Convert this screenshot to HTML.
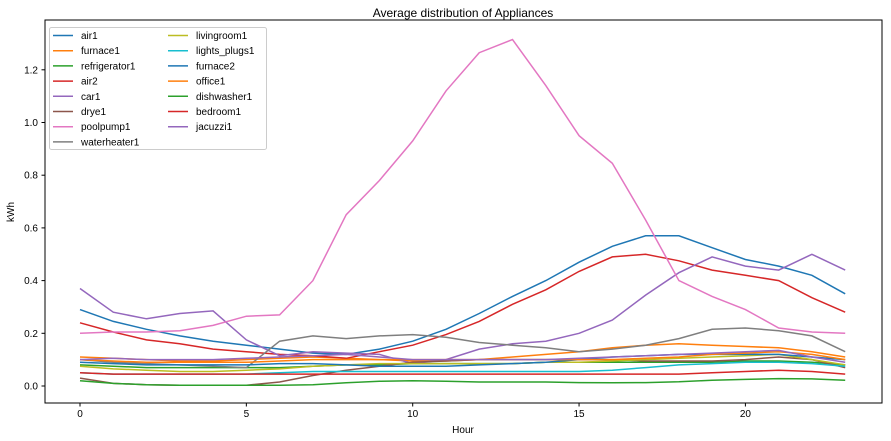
<!DOCTYPE html>
<html><head><meta charset="utf-8"><style>
body{margin:0;background:#fff;font-family:"Liberation Sans",sans-serif}
svg{display:block}
</style></head><body>
<svg id="chart" width="891" height="441" xmlns="http://www.w3.org/2000/svg">
<text x="463" y="17" text-anchor="middle" font-size="12">Average distribution of Appliances</text>
<text x="463" y="433" text-anchor="middle" font-size="10">Hour</text>
<text x="14" y="212" text-anchor="middle" font-size="10" transform="rotate(-90 14 212)">kWh</text>
<g id="ticks"></g>
<g id="lines"></g>
<rect x="45" y="20" width="837" height="383" fill="none" stroke="#000" stroke-width="1"/>
<g id="legend"></g>
</svg>
<script>
const hours = [0,1,2,3,4,5,6,7,8,9,10,11,12,13,14,15,16,17,18,19,20,21,22,23];
const xTicks = [0,5,10,15,20];
const yTicks = [0,0.2,0.4,0.6,0.8,1.0,1.2];
const seriesNames = ["air1","furnace1","refrigerator1","air2","car1","drye1","poolpump1","waterheater1","livingroom1","lights_plugs1","furnace2","office1","dishwasher1","bedroom1","jacuzzi1"];
const colors = ["#1f77b4","#ff7f0e","#2ca02c","#d62728","#9467bd","#8c564b","#e377c2","#7f7f7f","#bcbd22","#17becf","#1f77b4","#ff7f0e","#2ca02c","#d62728","#9467bd"];
const air1 = [0.29,0.245,0.215,0.19,0.17,0.155,0.14,0.125,0.12,0.14,0.17,0.215,0.275,0.34,0.40,0.47,0.53,0.57,0.57,0.525,0.48,0.455,0.42,0.35];
const furnace1 = [0.11,0.105,0.10,0.095,0.095,0.1,0.105,0.11,0.105,0.10,0.095,0.095,0.10,0.11,0.12,0.13,0.145,0.155,0.16,0.155,0.15,0.145,0.13,0.11];
const refrigerator1 = [0.08,0.075,0.07,0.07,0.07,0.07,0.07,0.075,0.08,0.08,0.085,0.085,0.085,0.085,0.09,0.09,0.09,0.09,0.09,0.09,0.095,0.095,0.09,0.08];
const air2 = [0.24,0.205,0.175,0.16,0.14,0.13,0.12,0.115,0.105,0.13,0.155,0.195,0.245,0.31,0.365,0.435,0.49,0.5,0.475,0.44,0.42,0.40,0.335,0.28];
const car1 = [0.37,0.28,0.255,0.275,0.285,0.175,0.115,0.13,0.125,0.12,0.085,0.10,0.14,0.16,0.17,0.20,0.25,0.345,0.43,0.49,0.455,0.44,0.50,0.44];
const drye1 = [0.03,0.01,0.005,0.003,0.003,0.003,0.015,0.04,0.06,0.075,0.09,0.095,0.1,0.1,0.1,0.1,0.1,0.095,0.095,0.095,0.1,0.11,0.1,0.07];
const poolpump1 = [0.20,0.205,0.205,0.21,0.23,0.265,0.27,0.40,0.65,0.78,0.93,1.12,1.265,1.315,1.14,0.95,0.845,0.63,0.40,0.34,0.29,0.22,0.205,0.20];
const waterheater1 = [0.10,0.09,0.085,0.08,0.075,0.07,0.17,0.19,0.18,0.19,0.195,0.185,0.165,0.155,0.145,0.13,0.14,0.155,0.18,0.215,0.22,0.21,0.19,0.13];
const livingroom1 = [0.075,0.065,0.06,0.055,0.055,0.06,0.065,0.075,0.08,0.085,0.085,0.085,0.085,0.085,0.09,0.09,0.095,0.10,0.105,0.11,0.115,0.12,0.10,0.08];
const lights_plugs1 = [0.05,0.045,0.045,0.045,0.045,0.045,0.05,0.055,0.055,0.055,0.055,0.055,0.055,0.055,0.055,0.055,0.06,0.07,0.08,0.085,0.09,0.09,0.085,0.075];
const furnace2 = [0.09,0.085,0.08,0.08,0.08,0.08,0.085,0.085,0.08,0.075,0.075,0.075,0.08,0.085,0.09,0.10,0.11,0.115,0.12,0.12,0.12,0.12,0.11,0.10];
const office1 = [0.10,0.095,0.09,0.09,0.09,0.09,0.095,0.10,0.10,0.10,0.10,0.10,0.10,0.10,0.10,0.10,0.10,0.105,0.11,0.12,0.125,0.13,0.12,0.10];
const dishwasher1 = [0.02,0.01,0.005,0.003,0.003,0.003,0.003,0.005,0.012,0.018,0.02,0.018,0.015,0.015,0.015,0.013,0.012,0.013,0.016,0.022,0.025,0.028,0.027,0.022];
const bedroom1 = [0.05,0.045,0.045,0.045,0.045,0.045,0.045,0.045,0.045,0.045,0.045,0.045,0.045,0.045,0.045,0.045,0.045,0.045,0.045,0.05,0.055,0.06,0.055,0.045];
const jacuzzi1 = [0.10,0.105,0.10,0.10,0.10,0.105,0.11,0.115,0.12,0.11,0.10,0.10,0.10,0.10,0.10,0.105,0.11,0.115,0.12,0.125,0.13,0.135,0.11,0.09];
const seriesValues = [air1,furnace1,refrigerator1,air2,car1,drye1,poolpump1,waterheater1,livingroom1,lights_plugs1,furnace2,office1,dishwasher1,bedroom1,jacuzzi1];

const NS = "http://www.w3.org/2000/svg";
function xScale(h){ return 80 + h * 33.27; }
function yScale(v){ return 386 - v * 263.5; }
function mk(tag, attrs){ const e = document.createElementNS(NS, tag); for (const k in attrs) e.setAttribute(k, attrs[k]); return e; }

const tg = document.getElementById('ticks');
xTicks.forEach(t => {
  const x = xScale(t);
  const l = mk('line', {x1:x, x2:x, y1:403, y2:406.5, stroke:'#000'});
  
  
  tg.appendChild(l);
  const tx = mk('text', {x:x, y:417, 'text-anchor':'middle', 'font-size':10});
  
  
  tx.textContent = t;
  tg.appendChild(tx);
});
yTicks.forEach(t => {
  const y = yScale(t);
  const l = mk('line', {x1:41.5, x2:45, y1:y, y2:y, stroke:'#000'});
  
  
  tg.appendChild(l);
  const tx = mk('text', {x:38, y:y+3.5, 'text-anchor':'end', 'font-size':10});
  
  
  tx.textContent = t.toFixed(1);
  tg.appendChild(tx);
});

const lg = document.getElementById('lines');
seriesValues.forEach((vals, i) => {
  const d = vals.map((v, j) => (j ? 'L' : 'M') + xScale(hours[j]).toFixed(1) + ',' + yScale(v).toFixed(1)).join('');
  const p = mk('path', {d:d, fill:'none', stroke:colors[i], 'stroke-width':1.5});
  
  
  lg.appendChild(p);
});

const leg = document.getElementById('legend');
const box = mk('rect', {x:49.5, y:27.5, width:217, height:122, rx:2, fill:'#fff', 'fill-opacity':0.85, stroke:'#ccc'});


leg.appendChild(box);
seriesNames.forEach((n, i) => {
  const col = i < 8 ? 0 : 1;
  const row = i < 8 ? i : i - 8;
  const x0 = col ? 168 : 53;
  const y = 35.5 + row * 15.2;
  const l = mk('line', {x1:x0, x2:x0+20, y1:y, y2:y, stroke:colors[i], 'stroke-width':1.5});
  
  
  leg.appendChild(l);
  const t = mk('text', {x:x0+28, y:y+3.5, 'font-size':10});
  
  
  t.textContent = n;
  leg.appendChild(t);
});
</script>
</body></html>
